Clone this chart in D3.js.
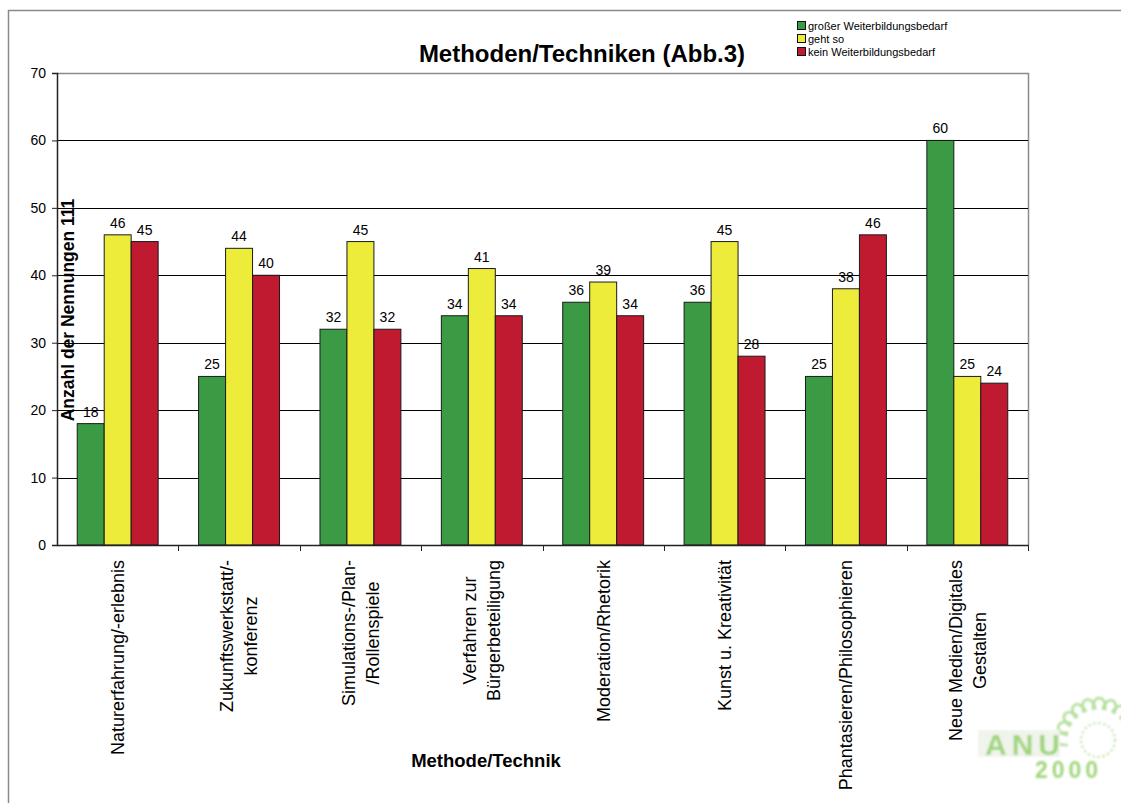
<!DOCTYPE html>
<html>
<head>
<meta charset="utf-8">
<script src="https://cdn.jsdelivr.net/npm/d3@7"></script>
<style>
  body { margin: 0; background: #fff; }
  svg { display: block; font-family: "Liberation Sans", Arial, sans-serif; }
</style>
</head>
<body>
<div id="chart"></div>
<script>
const categories = [
  ["Naturerfahrung/-erlebnis"],
  ["Zukunftswerkstatt/-", "konferenz"],
  ["Simulations-/Plan-", "/Rollenspiele"],
  ["Verfahren zur", "Bürgerbeteiligung"],
  ["Moderation/Rhetorik"],
  ["Kunst u. Kreativität"],
  ["Phantasieren/Philosophieren"],
  ["Neue Medien/Digitales", "Gestalten"]
];
const seriesNames = ["großer Weiterbildungsbedarf", "geht so", "kein Weiterbildungsbedarf"];
const seriesColors = ["#3a9b44", "#eeec3a", "#c01a30"];
const grossValues = [18, 25, 32, 34, 36, 36, 25, 60];
const gehtSoValues = [46, 44, 45, 41, 39, 45, 38, 25];
const keinValues = [45, 40, 32, 34, 34, 28, 46, 24];
const yTicks = [0, 10, 20, 30, 40, 50, 60, 70];

const values = [grossValues, gehtSoValues, keinValues];
const data = categories.map((c, i) => ({
  key: i,
  lines: c,
  vals: seriesNames.map((s, j) => ({ series: j, value: values[j][i] }))
}));

const width = 1121, height = 803;
const plot = { left: 57, right: 1028, top: 73, bottom: 545 };

const svg = d3.select("#chart").append("svg")
  .attr("width", width)
  .attr("height", height);

// outer frame
svg.append("rect")
  .attr("x", 8.5).attr("y", 10.5)
  .attr("width", 1200).attr("height", 900)
  .attr("fill", "none")
  .attr("stroke", "#8a8a8a")
  .attr("stroke-width", 1.5);

const x = d3.scaleBand()
  .domain(data.map(d => d.key))
  .range([plot.left, plot.right]);

const x1 = d3.scaleBand()
  .domain([0, 1, 2])
  .range([x.bandwidth() / 6, x.bandwidth() * 5 / 6]);

const y = d3.scaleLinear()
  .domain([0, 70])
  .range([plot.bottom, plot.top]);

// plot border (top/right)
svg.append("path")
  .attr("d", `M${plot.left},${plot.top + 0.5}H${plot.right + 0.5}V${plot.bottom}`)
  .attr("fill", "none")
  .attr("stroke", "#8a8a8a")
  .attr("stroke-width", 1.5);

// gridlines
svg.append("g")
  .selectAll("line")
  .data(yTicks.filter(t => t > 0 && t < 70))
  .enter()
  .append("line")
  .attr("x1", plot.left)
  .attr("x2", plot.right)
  .attr("y1", d => Math.round(y(d)) + 0.5)
  .attr("y2", d => Math.round(y(d)) + 0.5)
  .attr("stroke", "#000")
  .attr("stroke-width", 1);

// bars
const groups = svg.append("g")
  .selectAll("g")
  .data(data)
  .enter()
  .append("g")
  .attr("transform", d => `translate(${x(d.key)},0)`);

groups.selectAll("rect")
  .data(d => d.vals)
  .enter()
  .append("rect")
  .attr("x", d => x1(d.series))
  .attr("y", d => y(d.value))
  .attr("width", x1.bandwidth())
  .attr("height", d => y(0) - y(d.value))
  .attr("fill", d => seriesColors[d.series])
  .attr("stroke", "#1a1a1a")
  .attr("stroke-width", 1);

groups.selectAll("text")
  .data(d => d.vals)
  .enter()
  .append("text")
  .attr("x", d => x1(d.series) + x1.bandwidth() / 2)
  .attr("y", d => y(d.value) - 7)
  .attr("text-anchor", "middle")
  .style("font-size", "14px")
  .style("fill", "#000")
  .text(d => d.value);

// y axis
const yAxis = svg.append("g")
  .attr("transform", `translate(${plot.left},0)`)
  .call(d3.axisLeft(y).tickValues(yTicks).tickSize(5).tickPadding(6).tickFormat(d3.format("d")));
yAxis.select(".domain").attr("stroke", "#222").attr("stroke-width", 1.5);
yAxis.selectAll(".tick line").attr("stroke", "#222");
yAxis.selectAll("text").style("font-size", "14px").style("fill", "#000").style("font-family", "Liberation Sans, Arial, sans-serif");

// x axis
const xAxis = svg.append("g")
  .attr("transform", `translate(0,${plot.bottom})`)
  .call(d3.axisBottom(x).tickSize(0).tickFormat(""));
xAxis.select(".domain").attr("stroke", "#222").attr("stroke-width", 1.5);
xAxis.selectAll(".tick").remove();
xAxis.selectAll(".btick")
  .data(d3.range(1, categories.length + 1))
  .enter()
  .append("line")
  .attr("x1", i => Math.round(x.range()[0] + i * x.step()) + 0.5)
  .attr("x2", i => Math.round(x.range()[0] + i * x.step()) + 0.5)
  .attr("y1", 0)
  .attr("y2", 6)
  .attr("stroke", "#222");

// category labels (rotated, center aligned lines)
const labels = svg.append("g")
  .selectAll("g")
  .data(data)
  .enter()
  .append("g")
  .attr("transform", d => `translate(${x(d.key) + x.bandwidth() / 2},560) rotate(-90)`);

labels.each(function (d) {
  const g = d3.select(this);
  const n = d.lines.length;
  const texts = d.lines.map((line, i) => g.append("text")
    .attr("y", (i - (n - 1) / 2) * 24)
    .attr("dy", "0.35em")
    .attr("text-anchor", "middle")
    .style("font-size", "18px")
    .style("fill", "#000")
    .text(line));
  const maxLen = d3.max(texts, t => t.node().getComputedTextLength());
  texts.forEach(t => t.attr("x", -maxLen / 2));
});

// titles
svg.append("text")
  .attr("x", 582)
  .attr("y", 62)
  .attr("text-anchor", "middle")
  .style("font-size", "24px")
  .style("font-weight", "bold")
  .text("Methoden/Techniken (Abb.3)");

svg.append("text")
  .attr("x", 486)
  .attr("y", 767)
  .attr("text-anchor", "middle")
  .style("font-size", "18.5px")
  .style("font-weight", "bold")
  .text("Methode/Technik");

svg.append("text")
  .attr("transform", "translate(68,310) rotate(-90)")
  .attr("dy", "0.35em")
  .attr("text-anchor", "middle")
  .style("font-size", "17.5px")
  .style("font-weight", "bold")
  .text("Anzahl der Nennungen 111");

// legend
const legend = svg.append("g")
  .selectAll("g")
  .data(seriesNames)
  .enter()
  .append("g")
  .attr("transform", (d, i) => `translate(797,${26 + i * 13})`);

legend.append("rect")
  .attr("x", 0.5).attr("y", -4.5)
  .attr("width", 8).attr("height", 8)
  .attr("fill", (d, i) => seriesColors[i])
  .attr("stroke", "#111");

legend.append("text")
  .attr("x", 11)
  .attr("dy", "0.35em")
  .style("font-size", "11px")
  .text(d => d);

// logo (faint, blurred)
const defs = svg.append("defs");
defs.append("filter").attr("id", "blur")
  .append("feGaussianBlur").attr("stdDeviation", 0.8);

const logo = svg.append("g").attr("filter", "url(#blur)").style("opacity", 0.85);
const petals = d3.range(-178, 20, 18);
const fc = [1098, 740];
logo.selectAll(".petal")
  .data(petals)
  .enter()
  .append("path")
  .attr("d", a => {
    const r = a * Math.PI / 180;
    const cx = fc[0] + Math.cos(r) * 36, cy = fc[1] + Math.sin(r) * 36;
    return `M${cx - 6},${cy + 6}C${cx - 8},${cy - 10} ${cx + 8},${cy - 10} ${cx + 6},${cy + 6}`;
  })
  .attr("transform", a => {
    const r = a * Math.PI / 180;
    const cx = fc[0] + Math.cos(r) * 36, cy = fc[1] + Math.sin(r) * 36;
    return `rotate(${a + 90},${cx},${cy})`;
  })
  .attr("fill", "none")
  .attr("stroke", "#a6d98a")
  .attr("stroke-width", 2.5);
logo.append("circle")
  .attr("cx", fc[0]).attr("cy", fc[1]).attr("r", 17)
  .attr("fill", "none")
  .attr("stroke", "#a6d98a")
  .attr("stroke-width", 2)
  .attr("stroke-dasharray", "2 3");
logo.append("rect").attr("x", 978).attr("y", 730).attr("width", 82).attr("height", 27).attr("fill", "#eef3ea");
logo.append("text")
  .attr("x", 985).attr("y", 755)
  .style("font-size", "30px")
  .style("font-weight", "bold")
  .style("letter-spacing", "5px")
  .style("fill", "#8fcf63")
  .text("ANU");
logo.append("text")
  .attr("x", 1035).attr("y", 778)
  .style("font-size", "23px")
  .style("font-weight", "bold")
  .style("letter-spacing", "4px")
  .style("fill", "#8fcf63")
  .text("2000");
</script>
</body>
</html>
